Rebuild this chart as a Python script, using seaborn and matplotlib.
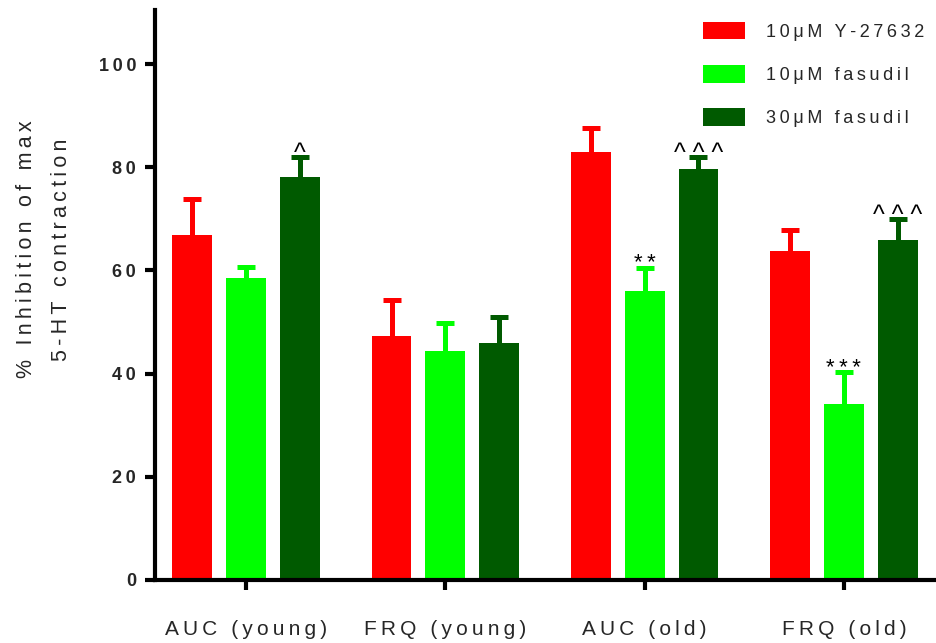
import matplotlib
matplotlib.use("Agg")
import matplotlib.pyplot as plt
from matplotlib.patches import Patch
import seaborn as sns
import pandas as pd
import numpy as np

# ---- data ----
groups = ["AUC (young)", "FRQ (young)", "AUC (old)", "FRQ (old)"]
treatments = ["10\u03bcM Y-27632", "10\u03bcM fasudil", "30\u03bcM fasudil"]
means_y27632 = [66.9, 47.3, 82.9, 63.8]
means_fas10 = [58.5, 44.4, 56.0, 34.1]
means_fas30 = [78.1, 45.9, 79.7, 65.9]
err_y27632 = [6.9, 7.0, 4.7, 4.0]
err_fas10 = [2.2, 5.4, 4.5, 6.2]
err_fas30 = [3.9, 5.1, 2.3, 4.1]
annot_y27632 = ["", "", "", ""]
annot_fas10 = ["", "", "**", "***"]
annot_fas30 = ["^", "", "^ ^ ^", "^ ^ ^"]
yticks = [0, 20, 40, 60, 80, 100]
ylabel_lines = ["% Inhibition of max", "5-HT contraction"]
colors = ["#FF0000", "#00FF00", "#005A00"]

means = [means_y27632, means_fas10, means_fas30]
errs = [err_y27632, err_fas10, err_fas30]
annots = [annot_y27632, annot_fas10, annot_fas30]

rows = []
for t, m in zip(treatments, means):
    for g, v in zip(groups, m):
        rows.append({"group": g, "treatment": t, "value": v})
df = pd.DataFrame(rows)

TS = "\u2009"


def sp(s):
    return TS.join(s)


sns.set_theme(style="ticks")
FAM = ["Liberation Sans", "DejaVu Sans"]
plt.rcParams["font.family"] = FAM

fig = plt.figure(figsize=(9.37, 6.43), dpi=100)
ax = fig.add_axes([155 / 937, 1 - 580 / 643, (937 - 155) / 937, 570 / 643])

sns.barplot(data=df, x="group", y="value", hue="treatment", order=groups,
            hue_order=treatments, palette=colors, width=0.81, gap=0.26,
            errorbar=None, legend=False, saturation=1, ax=ax, linewidth=0)

bar_conts = list(ax.containers)
for i, cont in enumerate(bar_conts):
    xs = [b.get_x() + b.get_width() / 2 for b in cont]
    hs = [b.get_height() for b in cont]
    eb = ax.errorbar(xs, hs, yerr=[[0] * len(hs), errs[i]], fmt="none",
                     ecolor=colors[i], elinewidth=3.6, capsize=6.5, capthick=3.6,
                     zorder=0.5)
    # hide the caps sitting on the bar tops (only upper error shown)
    for cl in eb[1]:
        if np.allclose(np.asarray(cl.get_ydata(), dtype=float), hs):
            cl.set_visible(False)
    for x, h, e, a in zip(xs, hs, errs[i], annots[i]):
        if a:
            if "^" in a:
                ax.annotate(a, (x, h + e), xytext=(0, -3), textcoords="offset points",
                            ha="center", va="baseline", fontsize=18, color="black",
                            family=FAM)
            else:
                ax.annotate(sp(a), (x, h + e), xytext=(0, -1), textcoords="offset points",
                            ha="center", va="baseline", fontsize=16, color="black",
                            family=FAM)

ax.set_ylim(0, 110.5)
ax.set_xlim(-0.457, 3.467)
ax.set_yticks(yticks)
ax.set_yticklabels([sp(str(v)) for v in yticks], fontsize=13, fontweight="bold",
                   family=FAM)
ax.set_xticks(range(len(groups)))
ax.set_xticklabels([sp(g) for g in groups], fontsize=15, family=FAM)
ax.set_xlabel("")
ax.set_ylabel("\n".join(sp(l) for l in ylabel_lines), fontsize=15.5,
              linespacing=1.9, family=FAM)
ax.yaxis.set_label_coords(-0.106, 0.58)

for s in ["top", "right"]:
    ax.spines[s].set_visible(False)
for s in ["left", "bottom"]:
    ax.spines[s].set_linewidth(3)
    ax.spines[s].set_color("black")
ax.tick_params(axis="both", width=3, length=7.5, color="black", direction="out")
ax.tick_params(axis="x", pad=21)
ax.tick_params(axis="y", pad=6)

handles = [Patch(facecolor=c, edgecolor="none") for c in colors]
fig.legend(handles, [sp(t) for t in treatments], loc="upper right",
           bbox_to_anchor=(1.004, 0.991), frameon=False,
           handlelength=2.3, handleheight=1.1, handletextpad=1.2,
           labelspacing=1.35, prop={"family": FAM, "size": 13})

fig.savefig("out.png", dpi=100)
